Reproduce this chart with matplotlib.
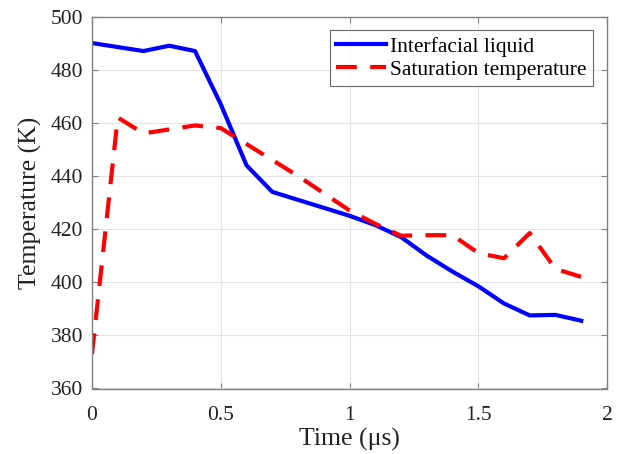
import numpy as np
import matplotlib.pyplot as plt

plt.rcParams['font.family'] = ['Liberation Serif', 'DejaVu Serif']

### data
time = [0.0, 0.1, 0.2, 0.3, 0.4, 0.5, 0.6, 0.7, 0.8, 0.9,
        1.0, 1.1, 1.2, 1.3, 1.4, 1.5, 1.6, 1.7, 1.8, 1.9]
t_liquid = [490, 488.5, 487, 489, 487, 467, 444, 434, 431, 428,
            425, 421.5, 417, 410, 404, 398.5, 392, 387.5, 387.7, 385.5]
t_sat = [373, 462, 456, 457.5, 459, 458, 452, 446, 440, 433.5,
         427, 422, 417.5, 417.7, 417.7, 411, 409, 418.5, 405, 402]

xticks = [0, 0.5, 1, 1.5, 2]
xticklabels = ['0', '0.5', '1', '1.5', '2']
yticks = [360, 380, 400, 420, 440, 460, 480, 500]

fig = plt.figure(figsize=(6.18, 4.54), dpi=100)
ax = fig.add_axes([92/618, 1-388.5/454, (607-92)/618, (388.5-16.5)/454])

ax.plot(time, t_liquid, color='#0000ff', lw=3.0, label='Interfacial liquid')
ax.plot(time, t_sat, color='#ff0000', lw=3.0, dashes=(5, 3.2),
        label='Saturation temperature')

ax.set_xlim(0, 2)
ax.set_ylim(360, 500)
ax.set_xticks(xticks)
ax.set_xticklabels(xticklabels)
ax.set_yticks(yticks)
ax.grid(True, color='#e3e3e3', lw=0.8)
ax.set_axisbelow(True)
for s in ax.spines.values():
    s.set_color('#808080')
    s.set_linewidth(1.0)
ax.tick_params(direction='in', top=True, right=True, length=4,
               color='#808080', labelsize=15.5, labelcolor='#222222')
ax.tick_params(axis='x', pad=12.5)
ax.tick_params(axis='y', pad=6.5)

ax.set_xlabel('Time (\u03bcs)', fontsize=18.5, color='#222222', labelpad=2)
ax.set_ylabel('Temperature (K)', fontsize=18.5, color='#222222', labelpad=6)

leg = ax.legend(loc='upper right', fontsize=15.5, frameon=True, fancybox=False,
                edgecolor='#444444', handlelength=2.3, handletextpad=0.2,
                borderpad=0.3, labelspacing=0.12, borderaxespad=0.65)
leg.get_frame().set_linewidth(0.8)

plt.savefig('out.png', dpi=100)
